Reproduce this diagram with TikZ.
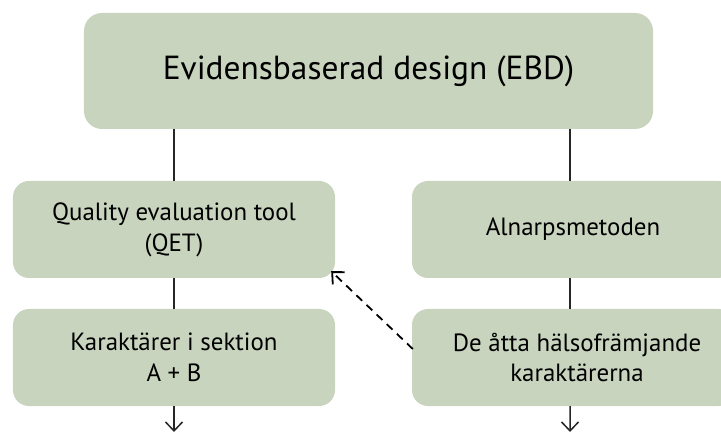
\documentclass[tikz,border=0pt]{standalone}
\usepackage{fontspec}
\setmainfont{PT Sans}
\usetikzlibrary{arrows.meta,calc}
\definecolor{sage}{RGB}{200,212,190}
\tikzset{
  box/.style={fill=sage, rounded corners=16bp, align=center, inner sep=0pt,
    minimum width=322bp, minimum height=97bp, font=\fontsize{25}{31}\selectfont},
  conn/.style={line width=1.5bp, draw=black!85},
  downarr/.style={conn, -{Straight Barb[length=9bp,width=17bp,line width=1.5bp]}},
  dasharr/.style={line width=1.8bp, dash pattern=on 8bp off 6bp,
    -{Straight Barb[length=9bp,width=17bp,line width=1.8bp]}}
}
\begin{document}
\begin{tikzpicture}[x=1bp,y=-1bp]
\useasboundingbox (0,0) rectangle (721,434);
\begin{scope}
\clip (0,0) rectangle (721,434);
\node[box, minimum width=569bp, minimum height=116bp, rounded corners=18bp,
  font=\fontsize{33.5}{40}\selectfont] (top) at (368.5,71) {Evidensbaserad design (EBD)};
\node[box] (ml) at (174,229.5) {Quality evaluation tool\\(QET)};
\node[box] (mr) at (573,229.5) {Alnarpsmetoden};
\node[box] (bl) at (174,357.5) {Karaktärer i sektion\\A + B};
\node[box] (br) at (573,357.5) {\hspace*{8bp}De åtta hälsofrämjande\\\hspace*{8bp}karaktärerna};
\end{scope}
\coordinate (endl) at (174,432);
\coordinate (endr) at (570,432);
\draw[conn] (top.south -| ml.north) -- (ml.north);
\draw[conn] (ml.south) -- (bl.north);
\draw[downarr] (bl.south) -- (endl);
\draw[conn] ([xshift=-3bp]mr.north |- top.south) -- ([xshift=-3bp]mr.north);
\draw[conn] ([xshift=-3bp]mr.south) -- ([xshift=-3bp]br.north);
\draw[downarr] ([xshift=-3bp]br.south) -- (endr);
\draw[dasharr] ($(br.west)+(1,-8.5)$) -- ($(ml.south east)+(-4,-7)$);
\end{tikzpicture}
\end{document}
